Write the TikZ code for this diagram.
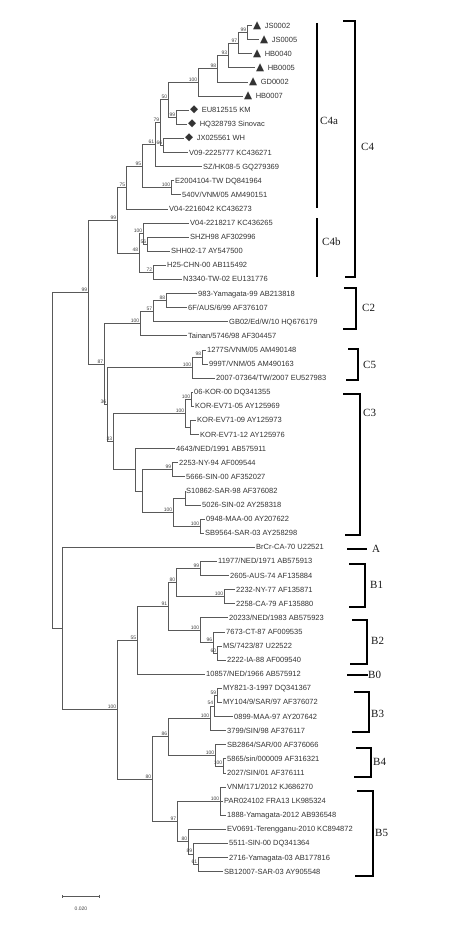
\documentclass[tikz,border=0pt]{standalone}
\usepackage{fontspec}
\setmainfont{Liberation Serif}
\setsansfont{Liberation Sans}
\newfontfamily\symfont{DejaVu Sans}
\usetikzlibrary{arrows.meta}
\newcommand{\tri}{{\symfont\fontsize{10.5}{10}\selectfont ▲}\hspace{3.5pt}}
\newcommand{\dia}{{\symfont\fontsize{10.5}{10}\selectfont ◆}\hspace{3.5pt}}

\begin{document}
\begin{tikzpicture}[x=1pt,y=-1pt,
  branch/.style={draw=black!65,line width=0.6pt},
  leaf/.style={anchor=west,inner sep=1pt,text height=5.3pt,text depth=0pt,text=black!80,
    font=\sffamily\fontsize{7.5}{8}\selectfont},
  boot/.style={anchor=south east,inner sep=0.7pt,text=black!75,font=\sffamily\fontsize{5}{5}\selectfont},
  clade/.style={anchor=west,inner sep=0pt,text=black!90,font=\fontsize{11}{12}\selectfont},
  bracket/.style={draw=black,line width=1.2pt}]
\useasboundingbox (0,0) rectangle (473,931);

% leaves, genotype C
\node[leaf] (js2) at (252,25.5) {\tri JS0002};
\node[leaf] (js5) at (259,39.6) {\tri JS0005};
\node[leaf] (hb40) at (252,53.7) {\tri HB0040};
\node[leaf] (hb5) at (255,67.8) {\tri HB0005};
\node[leaf] (gd2) at (248,81.9) {\tri GD0002};
\node[leaf] (hb7) at (243,96.0) {\tri HB0007};
\node[leaf] (km) at (189,110.1) {\dia EU812515 KM};
\node[leaf] (sino) at (187,124.2) {\dia HQ328793 Sinovac};
\node[leaf] (wh) at (184,138.3) {\dia JX025561 WH};
\node[leaf] (v09) at (188,152.4) {V09-2225777 KC436271};
\node[leaf] (szhk) at (202,166.5) {SZ/HK08-5 GQ279369};
\node[leaf] (e2004) at (174,180.6) {E2004104-TW DQ841964};
\node[leaf] (v540) at (181,194.7) {540V/VNM/05 AM490151};
\node[leaf] (v0416) at (168,208.8) {V04-2216042 KC436273};
\node[leaf] (v0418) at (189,222.9) {V04-2218217 KC436265};
\node[leaf] (shzh) at (189,237.0) {SHZH98 AF302996};
\node[leaf] (shh) at (170,251.1) {SHH02-17 AY547500};
\node[leaf] (h25) at (166,265.2) {H25-CHN-00 AB115492};
\node[leaf] (n3340) at (182,279.3) {N3340-TW-02 EU131776};
\node[leaf] (yam99) at (197,293.4) {983-Yamagata-99 AB213818};
\node[leaf] (aus99) at (187,307.5) {6F/AUS/6/99 AF376107};
\node[leaf] (gb02) at (228,321.6) {GB02/Ed/W/10 HQ676179};
\node[leaf] (tainan) at (187,335.7) {Tainan/5746/98 AF304457};
\node[leaf] (vnm1277) at (206,349.8) {1277S/VNM/05 AM490148};
\node[leaf] (vnm999) at (208,363.9) {999T/VNM/05 AM490163};
\node[leaf] (tw07) at (215,378.0) {2007-07364/TW/2007 EU527983};
\node[leaf] (kor00) at (193,392.1) {06-KOR-00 DQ341355};
\node[leaf] (kor05) at (194,406.2) {KOR-EV71-05 AY125969};
\node[leaf] (kor09) at (196,420.3) {KOR-EV71-09 AY125973};
\node[leaf] (kor12) at (199,434.4) {KOR-EV71-12 AY125976};
\node[leaf] (ned91) at (175,448.5) {4643/NED/1991 AB575911};
\node[leaf] (ny94) at (178,462.6) {2253-NY-94 AF009544};
\node[leaf] (c3a) at (185,476.7) {5666-SIN-00 AF352027};
\node[leaf] (c3b) at (185,490.8) {S10862-SAR-98 AF376082};
\node[leaf] (sin02) at (201,504.9) {5026-SIN-02 AY258318};
\node[leaf] (maa00) at (205,519.0) {0948-MAA-00 AY207622};
\node[leaf] (sar03) at (204,533.1) {SB9564-SAR-03 AY258298};
% leaves, genotypes A and B
\node[leaf] (brcr) at (255,547.2) {BrCr-CA-70 U22521};
\node[leaf] (ned71) at (217,561.3) {11977/NED/1971 AB575913};
\node[leaf] (aus74) at (229,575.4) {2605-AUS-74 AF135884};
\node[leaf] (ny77) at (235,589.5) {2232-NY-77 AF135871};
\node[leaf] (ca79) at (235,603.6) {2258-CA-79 AF135880};
\node[leaf] (ned83) at (228,617.7) {20233/NED/1983 AB575923};
\node[leaf] (ct87) at (225,631.8) {7673-CT-87 AF009535};
\node[leaf] (ms87) at (222,645.9) {MS/7423/87 U22522};
\node[leaf] (ia88) at (226,660.0) {2222-IA-88 AF009540};
\node[leaf] (ned66) at (205,674.1) {10857/NED/1966 AB575912};
\node[leaf] (my97) at (222,688.2) {MY821-3-1997 DQ341367};
\node[leaf] (sar97) at (222,702.3) {MY104/9/SAR/97 AF376072};
\node[leaf] (maa97) at (233,716.4) {0899-MAA-97 AY207642};
\node[leaf] (sin98) at (226,730.5) {3799/SIN/98 AF376117};
\node[leaf] (sar00) at (226,744.6) {SB2864/SAR/00 AF376066};
\node[leaf] (sin09) at (226,758.7) {5865/sin/000009 AF316321};
\node[leaf] (sin01) at (226,772.8) {2027/SIN/01 AF376111};
\node[leaf] (vnm12) at (226,786.9) {VNM/171/2012 KJ686270};
\node[leaf] (par13) at (223,801.0) {PAR024102 FRA13 LK985324};
\node[leaf] (yam12) at (226,815.1) {1888-Yamagata-2012 AB936548};
\node[leaf] (ev0691) at (226,829.2) {EV0691-Terengganu-2010 KC894872};
\node[leaf] (sin00) at (228,843.3) {5511-SIN-00 DQ341364};
\node[leaf] (yam03) at (228,857.4) {2716-Yamagata-03 AB177816};
\node[leaf] (sar03b) at (223,871.5) {SB12007-SAR-03 AY905548};

% inner nodes
\coordinate (a99) at (247,32.6);
\coordinate (a97) at (238,43.1);
\coordinate (a93) at (228,55.5);
\coordinate (a98) at (217,68.7);
\coordinate (a100) at (198,82.3);
\coordinate (k99) at (176,117.2);
\coordinate (a50) at (168,99.7);
\coordinate (w66) at (163,145.4);
\coordinate (a79) at (160,122.5);
\coordinate (a61) at (155,144.5);
\coordinate (e100) at (171,187.6);
\coordinate (a95) at (142,166.0);
\coordinate (a75) at (126,187.4);
\coordinate (b56) at (147,244.0);
\coordinate (b100) at (143,233.5);
\coordinate (b72) at (153,272.2);
\coordinate (b48) at (139,252.9);
\coordinate (c4) at (117,220.1);
\coordinate (y88) at (166,300.5);
\coordinate (y57) at (153,311.0);
\coordinate (c2) at (140,323.4);
\coordinate (v98) at (202,356.9);
\coordinate (c5) at (192,367.4);
\coordinate (k100) at (191,399.2);
\coordinate (kb) at (190,427.4);
\coordinate (kk) at (185,413.3);
\coordinate (s99) at (172,469.7);
\coordinate (sw) at (185,497.9);
\coordinate (m100) at (200,526.1);
\coordinate (s100) at (173,512.0);
\coordinate (sx) at (142,490.9);
\coordinate (sb) at (135,469.7);
\coordinate (c3) at (113,441.5);
\coordinate (n36) at (107,404.5);
\coordinate (n87) at (104,364.0);
\coordinate (n99) at (88,292.0);
\coordinate (p99) at (200,568.4);
\coordinate (p100) at (224,596.6);
\coordinate (p80) at (176,582.5);
\coordinate (q60) at (217,653.0);
\coordinate (q96) at (213,642.4);
\coordinate (q100) at (200,630.0);
\coordinate (p91) at (168,606.3);
\coordinate (p55) at (137,640.2);
\coordinate (r59) at (217,695.3);
\coordinate (r54) at (214,705.8);
\coordinate (r100) at (210,718.2);
\coordinate (t100) at (223,765.8);
\coordinate (t100b) at (215,755.2);
\coordinate (r86) at (168,736.7);
\coordinate (u100) at (220,801.0);
\coordinate (u61) at (198,864.5);
\coordinate (u89) at (193,853.9);
\coordinate (u80) at (188,841.6);
\coordinate (u97) at (177,821.3);
\coordinate (r80) at (152,779.0);
\coordinate (gb100) at (117,709.6);
\coordinate (ab) at (62,628.4);
\coordinate (root) at (52,460.2);

% branches
\foreach \p/\c in {a99/js2,a99/js5,a97/a99,a97/hb40,a93/a97,a93/hb5,a98/a93,a98/gd2,
  a100/a98,a100/hb7,k99/km,k99/sino,a50/a100,a50/k99,w66/wh,w66/v09,a79/a50,a79/w66,
  a61/a79,a61/szhk,e100/e2004,e100/v540,a95/a61,a95/e100,a75/a95,a75/v0416,
  b56/shzh,b56/shh,b100/v0418,b100/b56,b72/h25,b72/n3340,b48/b100,b48/b72,c4/a75,c4/b48,
  y88/yam99,y88/aus99,y57/y88,y57/gb02,c2/y57,c2/tainan,v98/vnm1277,v98/vnm999,c5/v98,c5/tw07,
  k100/kor00,k100/kor05,kb/kor09,kb/kor12,kk/k100,kk/kb,s99/ny94,s99/c3a,sw/c3b,sw/sin02,
  m100/maa00,m100/sar03,s100/sw,s100/m100,sx/s99,sx/s100,sb/ned91,sb/sx,c3/kk,c3/sb,
  n36/c5,n36/c3,n87/c2,n87/n36,n99/c4,n99/n87}
  \draw[branch] (\p) |- (\c);
\foreach \p/\c in {p99/ned71,p99/aus74,p100/ny77,p100/ca79,p80/p99,p80/p100,q60/ms87,q60/ia88,
  q96/ct87,q96/q60,q100/ned83,q100/q96,p91/p80,p91/q100,p55/p91,p55/ned66,
  r59/my97,r59/sar97,r54/r59,r54/maa97,r100/r54,r100/sin98,t100/sin09,t100/sin01,
  t100b/sar00,t100b/t100,r86/r100,r86/t100b,u100/vnm12,u100/par13,u100/yam12,
  u61/yam03,u61/sar03b,u89/sin00,u89/u61,u80/ev0691,u80/u89,u97/u100,u97/u80,
  r80/r86,r80/u97,gb100/p55,gb100/r80,ab/brcr,ab/gb100,root/n99,root/ab}
  \draw[branch] (\p) |- (\c);

% bootstrap values
\foreach \n/\v in {a99/99,a97/97,a93/93,a98/98,a100/100,k99/99,a50/50,w66/66,a79/79,a61/61,
  e100/100,a95/95,a75/75,b56/56,b100/100,b72/72,b48/48,c4/99,y88/88,y57/57,c2/100,
  v98/98,c5/100,k100/100,kk/100,s99/99,s100/100,m100/100,c3/33,n36/36,n87/87,n99/99,
  p99/99,p100/100,p80/80,q60/60,q96/96,q100/100,p91/91,p55/55,r59/59,r54/54,r100/100,
  t100/100,t100b/100,r86/86,u100/100,u61/61,u89/89,u80/80,u97/97,r80/80,gb100/100}
  \node[boot] (bs\n) at (\n) {\v};

% clade brackets
\draw[bracket] (317,23) -- (317,208);
\draw[bracket] (317,218) -- (317,277);
\draw[bracket] (343,21) -- (355,21) -- (355,277) -- (345,277);
\draw[bracket] (344,288) -- (356,288) -- (356,329) -- (343,329);
\draw[bracket] (348,349) -- (358,349) -- (358,380) -- (346,380);
\draw[bracket] (343,394) -- (360,394) -- (360,535) -- (345,535);
\draw[bracket] (347,549) -- (367,549);
\draw[bracket] (349,564) -- (365,564) -- (365,607) -- (349,607);
\draw[bracket] (352,620) -- (367,620) -- (367,664) -- (350,664);
\draw[bracket] (347,675) -- (368,675);
\draw[bracket] (354,692) -- (369,692) -- (369,732) -- (352,732);
\draw[bracket] (356,748) -- (371,748) -- (371,777) -- (354,777);
\draw[bracket] (357,791) -- (373,791) -- (373,876) -- (355,876);
\node[clade] (lc4a) at (320,121) {C4a};
\node[clade] (lc4b) at (322,242) {C4b};
\node[clade] (lc4) at (361,147) {C4};
\node[clade] (lc2) at (362,308) {C2};
\node[clade] (lc5) at (363,365) {C5};
\node[clade] (lc3) at (363,413) {C3};
\node[clade] (la) at (372,549) {A};
\node[clade] (lb1) at (370,585) {B1};
\node[clade] (lb2) at (371,641) {B2};
\node[clade] (lb0) at (368,675) {B0};
\node[clade] (lb3) at (371,714) {B3};
\node[clade] (lb4) at (373,762) {B4};
\node[clade] (lb5) at (375,833) {B5};

% scale bar
\coordinate (sb0) at (62,896);
\coordinate (sb1) at (100,896);
\draw[branch,{Bar[width=3pt]}-{Bar[width=3pt]}] (sb0) -- (sb1);
\node[boot,anchor=center] (sbl) at (81,909) {0.020};
\end{tikzpicture}
\end{document}
